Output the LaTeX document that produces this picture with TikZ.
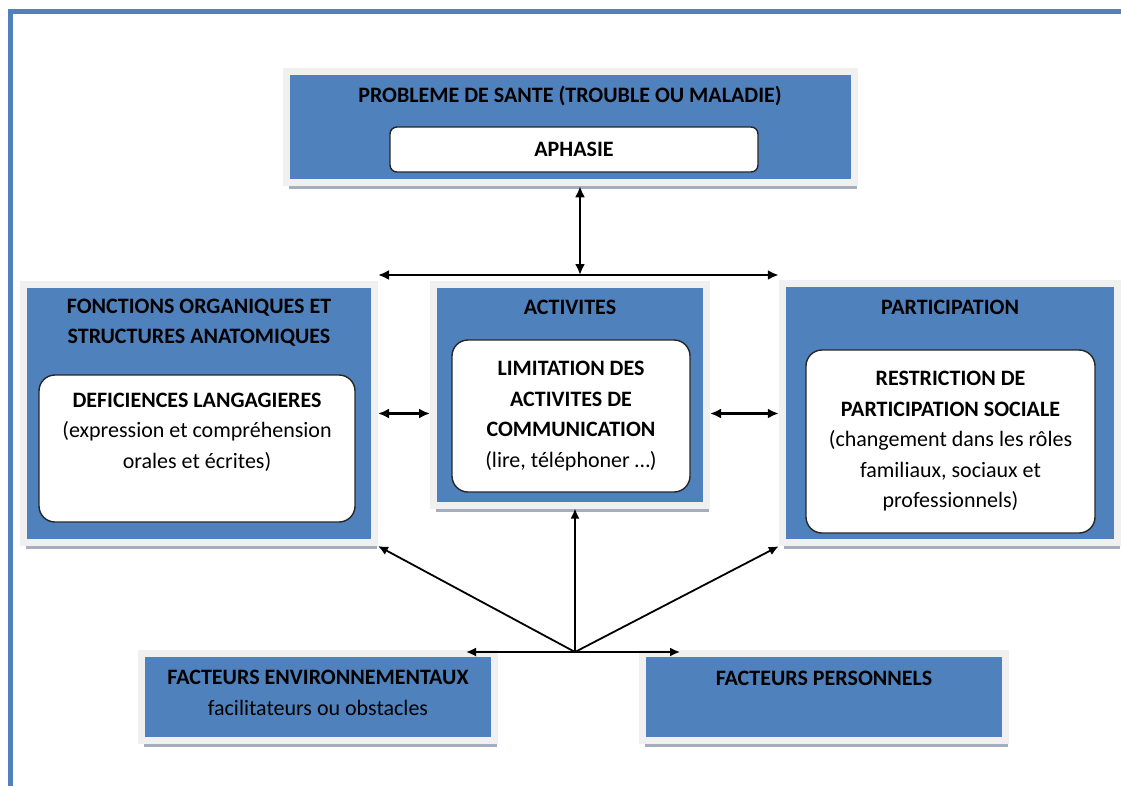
\documentclass[tikz,border=0pt]{standalone}
\usepackage{fontspec}
\setmainfont{Carlito}
\usetikzlibrary{shapes.misc, shadows, arrows, arrows.meta, positioning}

\definecolor{boxblue}{RGB}{79,129,189}
\definecolor{rimgray}{RGB}{240,240,240}
\definecolor{shadegray}{RGB}{165,174,190}

\tikzset{
	bluebox/.style={rectangle, fill=boxblue, draw=rimgray, line width=7pt,
		drop shadow={shadow xshift=2pt, shadow yshift=-6.5pt, fill=shadegray, opacity=1}},
	whitebox/.style={rectangle, rounded corners=16pt, fill=white, draw=black!85, line width=1.4pt},
	caption/.style={font=\fontsize{22}{30.5}\selectfont\bfseries, align=center, inner sep=0pt},
	detail/.style={font=\fontsize{22}{30.5}\selectfont, align=center, inner sep=0pt},
	link/.style={line width=2.3pt, >={Latex[length=11pt,width=10pt]}},
	spoke/.style={line width=1.8pt, >={Latex[length=10pt,width=9pt]}}
}

\begin{document}
\begin{tikzpicture}[x=1pt, y=-1pt]
	\useasboundingbox (0,0) rectangle (1121,785);
	% cadre de la page
	\draw[boxblue, line width=5pt] (1130,11) -- (10.5,11) -- (10.5,795);

	% probleme de sante
	\node[bluebox, minimum width=568pt, minimum height=111pt] (sante) at (570.75,127.25) {};
	\node[caption] (sante-t) at (570,96) {PROBLEME DE SANTE (TROUBLE OU MALADIE)};
	\node[whitebox, rounded corners=7pt, minimum width=368pt, minimum height=45pt, caption] (aphasie) at (574,149.5) {APHASIE};

	% fonctions
	\node[bluebox, minimum width=351pt, minimum height=258pt] (fonctions) at (199,413.5) {};
	\node[caption] (fonctions-t) at (199,322.5) {FONCTIONS ORGANIQUES ET\\STRUCTURES ANATOMIQUES};
	\node[whitebox, minimum width=316pt, minimum height=147pt] (deficiences) at (197,448.5) {};
	\node[detail] (deficiences-t) at (197,432) {\textbf{DEFICIENCES LANGAGIERES}\\(expression et compréhension\\orales et écrites)};

	% activites
	\node[bluebox, minimum width=273pt, minimum height=221pt] (activites) at (570,394.5) {};
	\node[caption] (activites-t) at (570,307) {ACTIVITES};
	\node[whitebox, minimum width=238pt, minimum height=152pt, detail] (limitation) at (571,416)
		{\textbf{LIMITATION DES}\\\textbf{ACTIVITES DE}\\\textbf{COMMUNICATION}\\(lire, téléphoner …)};

	% participation
	\node[bluebox, minimum width=335.5pt, minimum height=259.5pt] (participation) at (950,413) {};
	\node[caption] (participation-t) at (950,307) {PARTICIPATION};
	\node[whitebox, minimum width=289pt, minimum height=183pt, detail] (restriction) at (950.5,441.5)
		{\textbf{RESTRICTION DE}\\\textbf{PARTICIPATION SOCIALE}\\(changement dans les rôles\\familiaux, sociaux et\\professionnels)};

	% facteurs contextuels
	\node[bluebox, minimum width=353pt, minimum height=87.5pt] (environnement) at (318,697) {};
	\node[detail] (environnement-t) at (318,693) {\textbf{FACTEURS ENVIRONNEMENTAUX}\\facilitateurs ou obstacles};
	\node[bluebox, minimum width=363pt, minimum height=87.5pt] (personnels) at (824,697) {};
	\node[caption] (personnels-t) at (824,678) {FACTEURS PERSONNELS};

	% liens
	\coordinate (haut) at (580,275);
	\coordinate (bas) at (575,652);
	\coordinate (bas-g) at (466,652);
	\coordinate (bas-d) at (680,652);
	\draw[link, <->] (sante.south -| haut) -- (haut);
	\draw[link, <->] (fonctions.north east |- haut) -- (participation.north west |- haut);
	\draw[link, <->] (fonctions.east) -- (fonctions.east -| activites.west);
	\draw[link, <->] (activites.east |- fonctions.east) -- (participation.west |- fonctions.east);
	\draw[spoke, <->] (bas-g) -- (bas-d);
	\draw[spoke, ->] (bas) -- (fonctions.south east);
	\draw[spoke, ->] (bas) -- (bas |- activites.south);
	\draw[spoke, ->] (bas) -- (participation.south west);
\end{tikzpicture}
\end{document}
